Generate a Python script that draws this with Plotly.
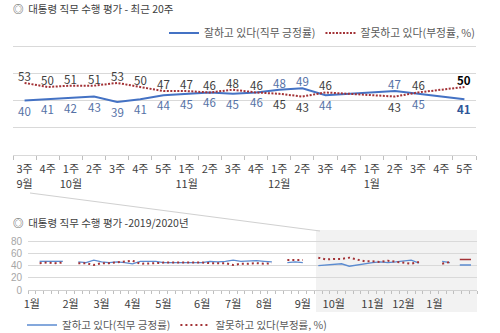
import plotly.graph_objects as go

# ---------------- recent 20 weeks (Sep 3rd week 2019 – Jan 5th week 2020) ----------------
week_labels = ["3주", "4주", "1주", "2주", "3주", "4주", "5주", "1주", "2주", "3주",
               "4주", "1주", "2주", "3주", "4주", "1주", "2주", "3주", "4주", "5주"]
month_labels = ["9월", "", "10월", "", "", "", "", "11월", "", "",
                "", "12월", "", "", "", "1월", "", "", "", ""]
approve_20 = [40, 41, 42, 43, 39, 41, 44, 45, 46, 45,
              46, 48, 49, 44, None, None, 47, 45, None, 41]
disapprove_20 = [53, 50, 51, 51, 53, 50, 47, 47, 46, 48,
                 46, 45, 43, 46, None, None, 43, 46, None, 50]

# ---------------- 2019/2020 weekly series (Jan 2019 – Sep 2nd week 2019, then the 20 weeks above) ----
approve_early = [None, 47, 47, 47, 47, None,
                 46, 45, 49, 46, 45, 46, 45, 43,
                 47, 47, 47, 45, 45, 45, 45, 46,
                 45, 47, 46, 47, 49, 47, 48, 48,
                 47, 46, None, 45, 46, 45, None]
disapprove_early = [None, 44, 45, 44, 45, None,
                    44, 44, 41, 44, 44, 45, 46, 48,
                    43, 43, 44, 45, 45, 45, 46, 45,
                    45, 44, 44, 44, 41, 43, 43, 44,
                    43, 44, None, 49, 49, 49, None]
approve_year = approve_early + approve_20
disapprove_year = disapprove_early + disapprove_20
year_month_ticks = [0, 5, 9, 13, 17, 22, 26, 30, 35, 39, 44, 48, 52]
year_month_text = ["1월", "2월", "3월", "4월", "5월", "6월", "7월",
                   "8월", "9월", "10월", "11월", "12월", "1월"]
n_slots = 58  # weekly slots on the yearly axis

BLUE = "#4472C4"
BLUE_THIN = "#5B8BD0"
RED = "#A33236"
FONT = "Noto Sans CJK KR"

fig = go.Figure()
x20 = list(range(len(week_labels)))

fig.add_trace(go.Scatter(
    x=x20, y=approve_20, mode="lines", name="잘하고 있다(직무 긍정률)",
    line=dict(color=BLUE, width=2), connectgaps=True,
    xaxis="x", yaxis="y", legend="legend", hoverinfo="skip"))
fig.add_trace(go.Scatter(
    x=x20, y=disapprove_20, mode="lines", name="잘못하고 있다(부정률, %)",
    line=dict(color=RED, width=2, dash="2px,1.5px"), connectgaps=True,
    xaxis="x", yaxis="y", legend="legend", hoverinfo="skip"))

# value labels: the higher series of each week is labelled above its line, the other below
value_labels = []
last = len(x20) - 1
for i, (a, d) in enumerate(zip(approve_20, disapprove_20)):
    if a is None or d is None:
        continue
    blue_on_top = a > d
    for v, on_top, col, last_col in ((a, blue_on_top, "#5571a6", "#2F5597"),
                                     (d, not blue_on_top, "#404040", "#000000")):
        value_labels.append(dict(
            x=i, y=v, xref="x", yref="y", showarrow=False,
            text=f"<b>{v}</b>" if i == last else str(v),
            yshift=7 if on_top else -10, xanchor="center", yanchor="middle",
            font=dict(size=11.5, color=last_col if i == last else col, family=FONT)))

# yearly chart
xy = list(range(len(approve_year)))
fig.add_trace(go.Scatter(
    x=xy, y=approve_year, mode="lines", name="잘하고 있다(직무 긍정률)",
    line=dict(color=BLUE_THIN, width=1.3), connectgaps=False,
    xaxis="x2", yaxis="y2", legend="legend2", hoverinfo="skip"))
fig.add_trace(go.Scatter(
    x=xy, y=disapprove_year, mode="lines", name="잘못하고 있다(부정률, %)",
    line=dict(color=RED, width=2, dash="2px,3px"), connectgaps=False,
    xaxis="x2", yaxis="y2", legend="legend2", hoverinfo="skip"))


def isolated(vals):
    xs, ys = [], []
    for i, v in enumerate(vals):
        if v is None:
            continue
        prev_v = vals[i - 1] if i > 0 else None
        next_v = vals[i + 1] if i < len(vals) - 1 else None
        if prev_v is None and next_v is None:
            xs.append(i)
            ys.append(v)
    return xs, ys


for vals, col in ((approve_year, BLUE_THIN), (disapprove_year, RED)):
    ix, iv = isolated(vals)
    fig.add_trace(go.Scatter(
        x=ix, y=iv, mode="markers", showlegend=False, hoverinfo="skip",
        marker=dict(symbol="line-ew", size=8, line=dict(color=col, width=1.5)),
        xaxis="x2", yaxis="y2"))

ticktext20 = [w + ("<br>" + m if m else "") for w, m in zip(week_labels, month_labels)]

fig.update_layout(
    width=500, height=333,
    margin=dict(l=0, r=0, t=0, b=0, autoexpand=False),
    paper_bgcolor="white", plot_bgcolor="rgba(0,0,0,0)",
    font=dict(family=FONT, size=10, color="#404040"),
    xaxis=dict(
        domain=[13 / 500, 476 / 500], range=[-0.5, len(x20) - 0.5],
        tickmode="array", tickvals=x20, ticktext=ticktext20, ticks="",
        tickfont=dict(size=11, color="#404040"), ticklabelstandoff=4,
        showgrid=False, zeroline=False, showline=True, linecolor="#d9d9d9",
        minor=dict(tickmode="array", tickvals=[i - 0.5 for i in range(len(x20) + 1)],
                   ticks="outside", ticklen=4, tickcolor="#bfbfbf", showgrid=False),
        anchor="y", fixedrange=True),
    yaxis=dict(
        domain=[1 - 155 / 333, 1 - 19 / 333], range=[0, 100],
        tickmode="array", tickvals=[20, 40, 60, 80, 100], showticklabels=False,
        gridcolor="#d9d9d9", gridwidth=1, zeroline=False, showline=False,
        anchor="x", fixedrange=True),
    xaxis2=dict(
        domain=[28 / 500, 477 / 500], range=[-0.5, n_slots - 0.5],
        tickmode="array", tickvals=year_month_ticks, ticktext=year_month_text, ticks="",
        tickfont=dict(size=11, color="#404040"), ticklabelstandoff=4,
        showgrid=False, zeroline=False, showline=True, linecolor="#d0d0d0",
        minor=dict(tickmode="array", tickvals=[i - 0.5 for i in range(n_slots + 1)],
                   ticks="outside", ticklen=3, tickcolor="#bfbfbf", showgrid=False),
        anchor="y2", fixedrange=True),
    yaxis2=dict(
        domain=[1 - 290 / 333, 1 - 229 / 333], range=[0, 100],
        tickmode="array", tickvals=[0, 20, 40, 60, 80],
        tickfont=dict(size=10, color="#a6a6a6", family="Liberation Sans"), ticklabelstandoff=5,
        gridcolor="#d9d9d9", gridwidth=1, zeroline=False, showline=False,
        anchor="x2", fixedrange=True),
    legend=dict(orientation="h", x=164 / 500, xanchor="left", y=1 - 33 / 333, yanchor="middle",
                font=dict(size=10.8, color="#595959"), bgcolor="rgba(0,0,0,0)",
                itemwidth=30, borderwidth=0),
    legend2=dict(orientation="h", x=22 / 500, xanchor="left", y=1 - 325 / 333, yanchor="middle",
                 font=dict(size=10.5, color="#595959"), bgcolor="rgba(0,0,0,0)",
                 itemwidth=30, borderwidth=0),
    shapes=[
        # highlighted span of the most recent 20 weeks on the yearly chart
        dict(type="rect", xref="x2", yref="paper", x0=36.7, x1=n_slots - 0.4,
             y0=1 - 312 / 333, y1=1 - 230 / 333, fillcolor="#f2f2f2",
             line=dict(width=0), layer="below"),
        # callout line linking the two charts
        dict(type="line", xref="paper", yref="paper", x0=30 / 500, y0=1 - 193 / 333,
             x1=320 / 500, y1=1 - 231 / 333, line=dict(color="#d0d0d0", width=1)),
    ],
    annotations=[
        dict(text="◎  대통령 직무 수행 평가 - 최근 20주", xref="paper", yref="paper",
             x=11 / 500, y=1 - 9 / 333, xanchor="left", yanchor="middle", showarrow=False,
             font=dict(size=10.5, color="#404040")),
        dict(text="◎  대통령 직무 수행 평가 -2019/2020년", xref="paper", yref="paper",
             x=11 / 500, y=1 - 222 / 333, xanchor="left", yanchor="middle", showarrow=False,
             font=dict(size=10.5, color="#404040")),
    ] + value_labels,
)

fig.write_html("out.html")
